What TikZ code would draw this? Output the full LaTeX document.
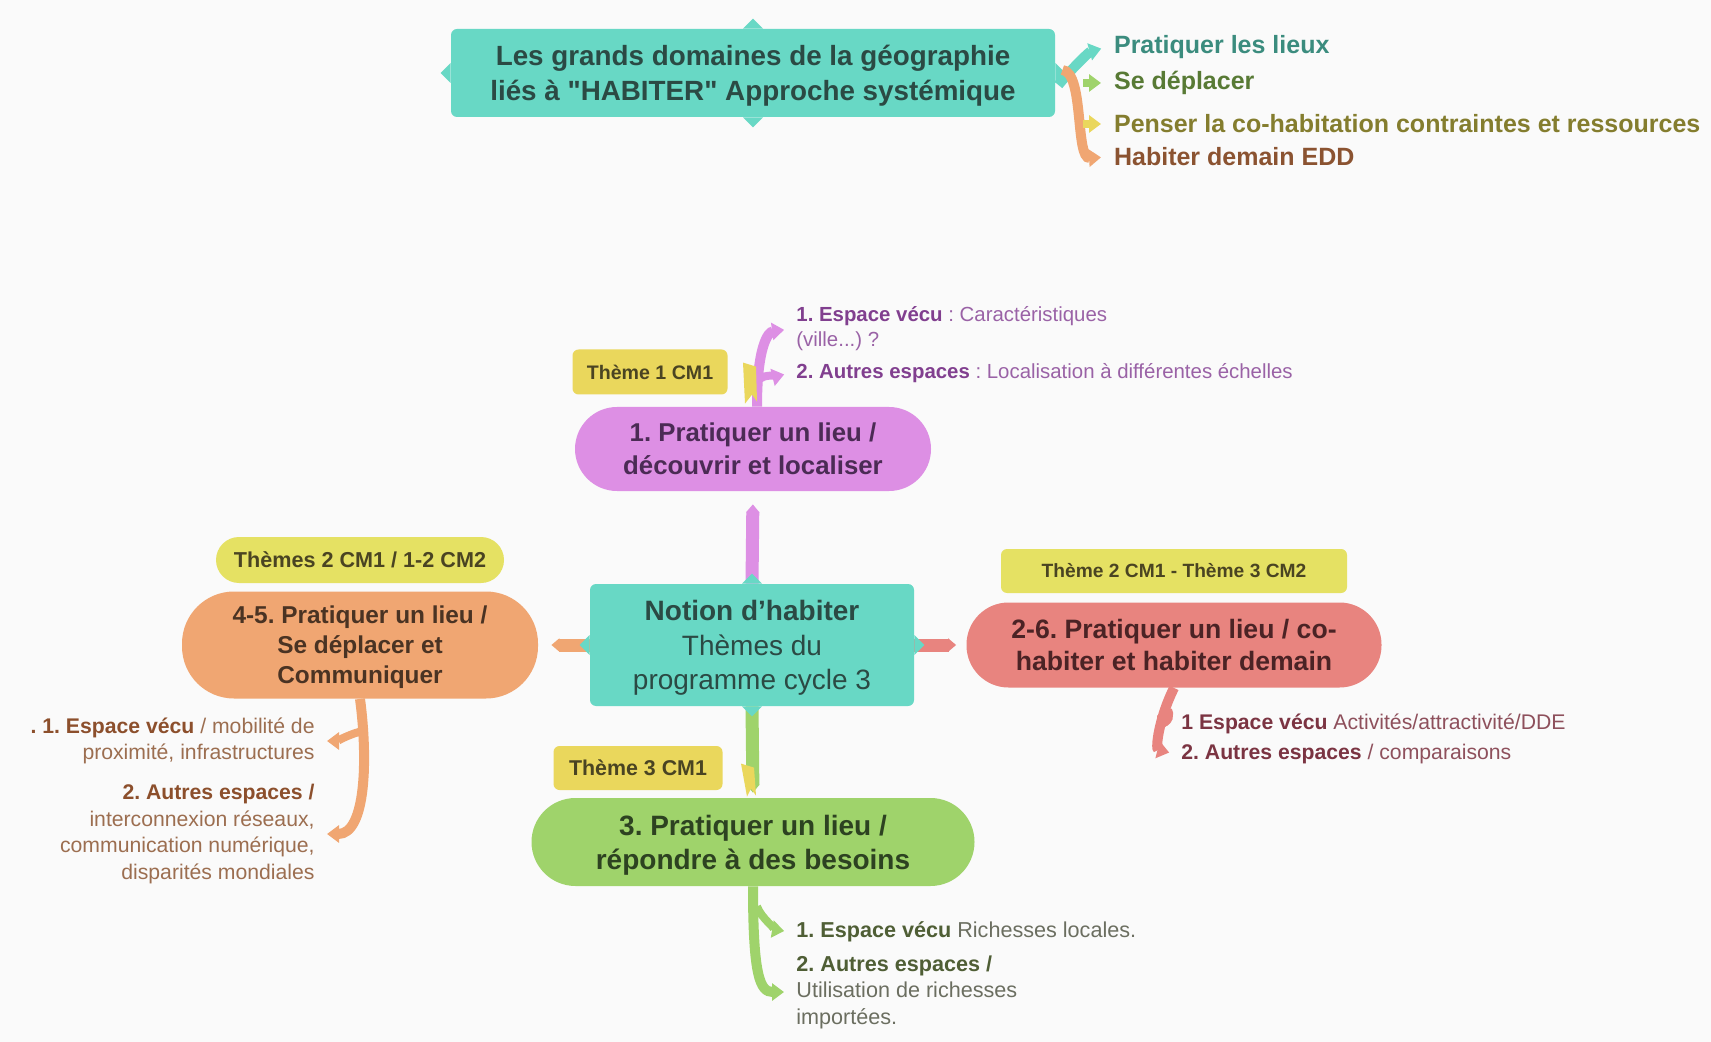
\documentclass[tikz,border=0pt]{standalone}
\usepackage{fontspec}
\setmainfont{Liberation Sans}[Ligatures=TeXOff]
\usetikzlibrary{arrows.meta}
\frenchspacing

\definecolor{bgcol}{HTML}{FAFAFA}
\definecolor{tealbox}{HTML}{68D8C5}
\definecolor{violetbox}{HTML}{DD8FE4}
\definecolor{orangebox}{HTML}{F0A672}
\definecolor{redbox}{HTML}{E8847F}
\definecolor{greenbox}{HTML}{9FD36B}
\definecolor{yellowbox}{HTML}{EAD75C}
\definecolor{yellowpale}{HTML}{E5E163}
\definecolor{tealtxt}{HTML}{2B4A44}
\definecolor{tealdark}{HTML}{3B8C7E}
\definecolor{greendark}{HTML}{587A35}
\definecolor{olivedark}{HTML}{847D2E}
\definecolor{browndark}{HTML}{8B5331}
\definecolor{tagtxt}{HTML}{4A4422}
\definecolor{violettxt}{HTML}{4B2B55}
\definecolor{orangetxt}{HTML}{4A3323}
\definecolor{redtxt}{HTML}{4B2325}
\definecolor{greentxt}{HTML}{2D4221}
\definecolor{violetbold}{HTML}{813F8F}
\definecolor{violetnote}{HTML}{9A62A6}
\definecolor{orangebold}{HTML}{8C4F2C}
\definecolor{orangenote}{HTML}{9C6E50}
\definecolor{redbold}{HTML}{7B3442}
\definecolor{rednote}{HTML}{8E505C}
\definecolor{greenbold}{HTML}{4F5E35}
\definecolor{greennote}{HTML}{6B6E60}

\newcommand\boxtips[2]{%
  \fill[#2] ([xshift=-5pt]#1.north) -- ([yshift=5pt]#1.north) -- ([xshift=5pt]#1.north) -- cycle;
  \fill[#2] ([xshift=-5pt]#1.south) -- ([yshift=-5pt]#1.south) -- ([xshift=5pt]#1.south) -- cycle;
  \fill[#2] ([yshift=-5pt]#1.west) -- ([xshift=-5pt]#1.west) -- ([yshift=5pt]#1.west) -- cycle;
  \fill[#2] ([yshift=-5pt]#1.east) -- ([xshift=5pt]#1.east) -- ([yshift=5pt]#1.east) -- cycle;}

\begin{document}
\begin{tikzpicture}[x=0.5pt,y=-0.5pt,
  box/.style={fill=tealbox,rounded corners=3pt,inner sep=0pt,align=center,text=tealtxt,text depth=0pt},
  pill/.style={rounded corners=#1,inner sep=0pt,align=center,text depth=0pt},
  themetag/.style={fill=yellowbox,rounded corners=3pt,inner sep=0pt,text=tagtxt},
  note/.style={inner sep=3pt},
  ribbon/.style={line width=6.5pt,-{Triangle[length=4pt,width=6.5pt]}},
  brace/.style={line width=5pt,shorten >=3pt,-{Triangle[length=6pt,width=8.5pt]}},
  twig/.style={line width=4pt,shorten >=3pt,-{Triangle[length=6pt,width=8.5pt]}}]
\useasboundingbox (0,0) rectangle (1711,1042);
\fill[bgcol] (0,0) rectangle (1711,1042);

% top box and its four branches
\node[box,minimum width=302pt,minimum height=44pt,font=\fontsize{13.9}{17.5}\selectfont\bfseries] (top) at (753,73)
  {Les grands domaines de la géographie\\liés à "HABITER" Approche systémique};
\node[anchor=west,text=tealdark,font=\fontsize{12.5}{15}\selectfont\bfseries] (r1) at (1107,47) {Pratiquer les lieux};
\node[anchor=west,text=greendark,font=\fontsize{12.5}{15}\selectfont\bfseries] (r2) at (1107,83) {Se déplacer};
\node[anchor=west,text=olivedark,font=\fontsize{12.5}{15}\selectfont\bfseries] (r3) at (1107,124) {Penser la co-habitation contraintes et ressources};
\node[anchor=west,text=browndark,font=\fontsize{12.5}{15}\selectfont\bfseries] (r4) at (1107,157) {Habiter demain EDD};

% centre and themes
\node[box,minimum width=162pt,minimum height=61pt,font=\fontsize{14}{17.25}\selectfont] (ctr) at (752,645)
  {\textbf{Notion d’habiter}\\Thèmes du\\programme cycle 3};
\node[pill=21pt,fill=violetbox,minimum width=178pt,minimum height=42pt,text=violettxt,font=\fontsize{12.9}{16.5}\selectfont\bfseries] (p1) at (753,449)
  {1. Pratiquer un lieu /\\découvrir et localiser};
\node[pill=26pt,fill=orangebox,minimum width=178pt,minimum height=53.5pt,text=orangetxt,font=\fontsize{12.2}{15}\selectfont\bfseries] (p45) at (360,645)
  {4-5. Pratiquer un lieu /\\Se déplacer et\\Communiquer};
\node[pill=21pt,fill=redbox,minimum width=207.5pt,minimum height=42.5pt,text=redtxt,font=\fontsize{13.3}{16}\selectfont\bfseries] (p26) at (1174,645)
  {2-6. Pratiquer un lieu / co-\\habiter et habiter demain};
\node[pill=22pt,fill=greenbox,minimum width=221.5pt,minimum height=44pt,text=greentxt,font=\fontsize{14}{17}\selectfont\bfseries] (p3) at (753,842)
  {3. Pratiquer un lieu /\\répondre à des besoins};

\node[themetag,minimum width=77.5pt,minimum height=22.5pt,font=\fontsize{9.8}{12}\selectfont\bfseries] (t1) at (650,372) {Thème 1 CM1};
\node[themetag,fill=yellowpale,rounded corners=11.5pt,minimum width=144pt,minimum height=23pt,font=\fontsize{10.8}{13}\selectfont\bfseries] (t45) at (360,560) {Thèmes 2 CM1 / 1-2 CM2};
\node[themetag,fill=yellowpale,minimum width=173pt,minimum height=22pt,font=\fontsize{9.6}{12}\selectfont\bfseries] (t26) at (1174,571) {Thème 2 CM1 - Thème 3 CM2};
\node[themetag,minimum width=84.5pt,minimum height=22pt,font=\fontsize{10.7}{13}\selectfont\bfseries] (t3) at (638,768) {Thème 3 CM1};

% notes
\node[note,anchor=west,align=left,text=violetnote,font=\fontsize{10.2}{12.5}\selectfont] (n1a) at (790,329)
  {\textbf{\color{violetbold}1. Espace vécu} : Caractéristiques\\(ville...) ?};
\node[note,anchor=west,align=left,text=violetnote,font=\fontsize{10.2}{12.5}\selectfont] (n1b) at (790,373)
  {\textbf{\color{violetbold}2. Autres espaces} : Localisation à différentes échelles};
\node[note,anchor=east,align=right,text=orangenote,font=\fontsize{10.6}{13}\selectfont] (n45a) at (321,741)
  {\textbf{\color{orangebold}. 1. Espace vécu} / mobilité de\\proximité, infrastructures};
\node[note,anchor=east,align=right,text=orangenote,font=\fontsize{10.6}{13.3}\selectfont] (n45b) at (321,834)
  {\textbf{\color{orangebold}2. Autres espaces /}\\interconnexion réseaux,\\communication numérique,\\disparités mondiales};
\node[note,anchor=west,align=left,text=rednote,font=\fontsize{10.6}{13}\selectfont] (n26a) at (1175,724)
  {\textbf{\color{redbold}1 Espace vécu} Activités/attractivité/DDE};
\node[note,anchor=west,align=left,text=rednote,font=\fontsize{10.6}{13}\selectfont] (n26b) at (1175,754)
  {\textbf{\color{redbold}2. Autres espaces} / comparaisons};
\node[note,anchor=west,align=left,text=greennote,font=\fontsize{10.8}{13.25}\selectfont] (n3a) at (790,932)
  {\textbf{\color{greenbold}1. Espace vécu} Richesses locales.};
\node[note,anchor=west,align=left,text=greennote,font=\fontsize{10.8}{13.25}\selectfont] (n3b) at (790,992)
  {\textbf{\color{greenbold}2. Autres espaces /}\\Utilisation de richesses\\importées.};

% connectors
\draw[ribbon,violetbox,shorten >=6.5pt] (ctr.north) -- (p1.south);
\draw[ribbon,orangebox,shorten >=6.5pt] (ctr.west) -- (p45.east);
\draw[ribbon,redbox,shorten >=5pt] (ctr.east) -- (p26.west);
\draw[ribbon,greenbox,shorten >=2.5pt] (ctr.south) -- (p3.north);
\boxtips{ctr}{tealbox}
\boxtips{top}{tealbox}

\draw[brace,tealbox] ([shift={(3,12)}]top.east) .. controls +(12,-15) and +(-18,5) .. (r1.west);
\draw[brace,orangebox] ([shift={(7,-3)}]top.east) .. controls +(22,2) and +(-32,2) .. (r4.west);
\draw[twig,greenbox] ([shift={(28,10)}]top.east) -- (r2.west);
\draw[twig,yellowbox] ([shift={(28,51)}]top.east) -- (r3.west);

\draw[brace,violetbox] ([xshift=2pt]p1.north) .. controls +(0,-60) and +(-22,3) .. (n1a.west);
\draw[twig,violetbox] ([shift={(8,-28)}]p1.north) .. controls +(2,-4) and +(-8,2) .. (n1b.west);
\draw[brace,orangebox] (p45.south) .. controls +(8,60) and +(45,0) .. (n45b.east);
\draw[twig,orangebox] ([shift={(3,32)}]p45.south) .. controls +(-10,2) and +(15,0) .. (n45a.east);
\draw[brace,redbox] (p26.south) .. controls +(-15,30) and +(-20,-5) .. (n26b.west);
\draw[twig,redbox] ([shift={(-6,22)}]p26.south) .. controls +(2,3) and +(-4,0) .. (n26a.west);
\draw[brace,greenbox] (p3.south) .. controls +(0,90) and +(-30,0) .. (n3b.west);
\draw[twig,greenbox] ([shift={(4,20)}]p3.south) .. controls +(4,12) and +(-12,-2) .. (n3a.west);

% theme flags
\fill[yellowbox,shift={(p1.north)}] (-10,-44) -- (3,-40) -- (4,-5) -- (-1,-12) -- (-8,-3) -- cycle;
\fill[yellowbox,shift={(p3.north)}] (-12,-34) -- (1,-30) -- (3,-2) -- (-2,-9) -- (-6,-1) -- cycle;
\end{tikzpicture}
\end{document}
